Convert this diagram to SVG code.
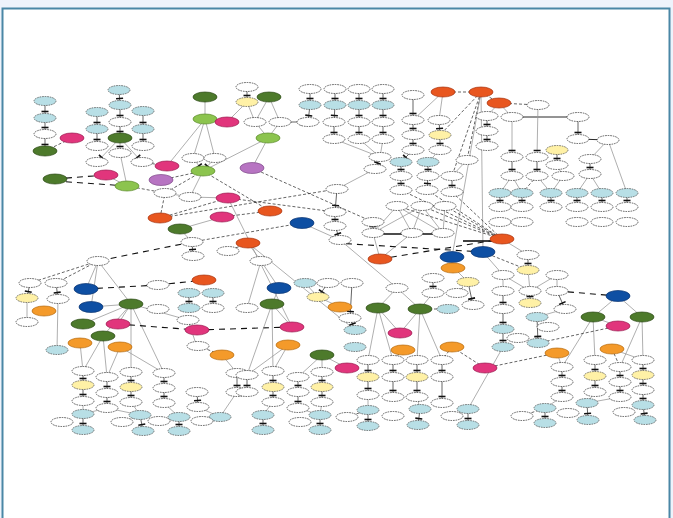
<svg xmlns="http://www.w3.org/2000/svg" width="673" height="518" viewBox="0 0 673 518">
<style>
.w{fill:#fff;stroke:#222;stroke-width:.7;stroke-dasharray:1.6 .9}
.lb{fill:#b8dfe6;stroke:#444;stroke-width:.7;stroke-dasharray:1.6 .9}
.ye{fill:#fff1a6;stroke:#444;stroke-width:.7;stroke-dasharray:1.6 .9}
.dg{fill:#4d7a2b;stroke:#2e4a18;stroke-width:.7}
.lg{fill:#8cc44e;stroke:#5a8a2a;stroke-width:.7}
.pk{fill:#e1357c;stroke:#9a1d50;stroke-width:.7}
.or{fill:#e8561f;stroke:#a63410;stroke-width:.7}
.db{fill:#0e4fa3;stroke:#0a3470;stroke-width:.7}
.og{fill:#f49a2a;stroke:#b56a10;stroke-width:.7}
.pu{fill:#b774c2;stroke:#7e4a88;stroke-width:.7}
#edges line{fill:none}
.t{stroke:#222;stroke-width:.7;marker-end:url(#bar)}
.g{stroke:#9a9a9a;stroke-width:.8}
.gt{stroke:#9a9a9a;stroke-width:.8;marker-end:url(#bar)}
.k{stroke:#111;stroke-width:.9}
.kk{stroke:#111;stroke-width:1.6}
.d{stroke:#222;stroke-width:.7;stroke-dasharray:3 2}
.bd{stroke:#111;stroke-width:1.1;stroke-dasharray:6 5}
</style>
<defs>
<marker id="bar" markerUnits="userSpaceOnUse" markerWidth="12" markerHeight="10" viewBox="-9 -5 12 10" refX="0" refY="0" orient="auto"><path d="M-6.5,-3.5V3.5" stroke="#111" stroke-width="1.6"/></marker>
</defs>
<rect x="0" y="0" width="673" height="518" fill="#eef3fb"/>
<rect x="2.5" y="8.5" width="667" height="520" fill="#fff" stroke="#4a87a6" stroke-width="2"/>
<g id="edges">
<line class="t" x1="45" y1="101" x2="45" y2="118"/><line class="t" x1="45" y1="118" x2="45" y2="134"/><line class="t" x1="45" y1="134" x2="45" y2="151"/>
<line class="t" x1="97" y1="112" x2="97" y2="129"/><line class="t" x1="97" y1="129" x2="97" y2="146"/>
<line class="t" x1="119" y1="90" x2="120" y2="105"/><line class="t" x1="120" y1="105" x2="120" y2="122"/><line class="t" x1="120" y1="122" x2="120" y2="138"/>
<line class="t" x1="143" y1="111" x2="143" y2="129"/><line class="t" x1="143" y1="129" x2="143" y2="146"/>
<line class="gt" x1="120" y1="138" x2="97" y2="162"/><line class="gt" x1="120" y1="138" x2="120" y2="153"/><line class="gt" x1="120" y1="138" x2="142" y2="162"/>
<line class="d" x1="45" y1="151" x2="72" y2="138"/><line class="d" x1="142" y1="162" x2="167" y2="166"/><line class="bd" x1="55" y1="179" x2="106" y2="175"/><line class="bd" x1="55" y1="181" x2="127" y2="186"/>
<line class="g" x1="106" y1="175" x2="127" y2="186"/><line class="g" x1="120" y1="153" x2="127" y2="186"/>
<line class="d" x1="127" y1="186" x2="165" y2="193"/>
<line class="g" x1="205" y1="97" x2="205" y2="119"/><line class="g" x1="205" y1="119" x2="193" y2="158"/><line class="g" x1="205" y1="119" x2="215" y2="158"/><line class="g" x1="227" y1="122" x2="247" y2="102"/><line class="g" x1="205" y1="119" x2="167" y2="166"/>
<line class="gt" x1="193" y1="158" x2="203" y2="171"/><line class="gt" x1="215" y1="158" x2="203" y2="171"/>
<line class="d" x1="203" y1="171" x2="161" y2="180"/><line class="d" x1="203" y1="171" x2="165" y2="193"/><line class="g" x1="203" y1="171" x2="190" y2="197"/>
<line class="t" x1="247" y1="87" x2="247" y2="102"/>
<line class="g" x1="247" y1="102" x2="255" y2="122"/><line class="g" x1="269" y1="97" x2="255" y2="122"/><line class="g" x1="269" y1="97" x2="280" y2="122"/><line class="t" x1="280" y1="122" x2="308" y2="122"/>
<line class="g" x1="255" y1="122" x2="268" y2="138"/><line class="g" x1="280" y1="122" x2="268" y2="138"/><line class="g" x1="268" y1="138" x2="252" y2="168"/><line class="g" x1="268" y1="138" x2="203" y2="171"/>
<line class="t" x1="310" y1="89" x2="310" y2="105"/><line class="t" x1="335" y1="89" x2="335" y2="105"/><line class="t" x1="359" y1="89" x2="359" y2="105"/><line class="t" x1="383" y1="89" x2="383" y2="105"/>
<line class="t" x1="310" y1="105" x2="308" y2="122"/><line class="t" x1="335" y1="105" x2="334" y2="122"/><line class="t" x1="359" y1="105" x2="359" y2="122"/><line class="t" x1="383" y1="105" x2="383" y2="122"/>
<line class="t" x1="334" y1="122" x2="334" y2="139"/><line class="t" x1="359" y1="122" x2="359" y2="139"/><line class="t" x1="383" y1="122" x2="383" y2="139"/>
<line class="g" x1="334" y1="139" x2="380" y2="157"/><line class="g" x1="359" y1="139" x2="380" y2="157"/><line class="g" x1="383" y1="139" x2="380" y2="157"/>
<line class="t" x1="380" y1="157" x2="375" y2="169"/><line class="g" x1="375" y1="169" x2="337" y2="189"/>
<line class="t" x1="413" y1="95" x2="413" y2="120"/><line class="g" x1="443" y1="92" x2="413" y2="120"/><line class="g" x1="443" y1="92" x2="439" y2="120"/>
<line class="t" x1="413" y1="120" x2="413" y2="135"/><line class="t" x1="439" y1="120" x2="440" y2="135"/><line class="t" x1="413" y1="135" x2="413" y2="150"/><line class="t" x1="440" y1="135" x2="440" y2="150"/>
<line class="d" x1="481" y1="92" x2="443" y2="92"/><line class="d" x1="481" y1="92" x2="499" y2="103"/><line class="d" x1="499" y1="103" x2="538" y2="105"/>
<line class="d" x1="481" y1="92" x2="440" y2="135"/><line class="d" x1="481" y1="92" x2="452" y2="176"/><line class="d" x1="481" y1="92" x2="467" y2="160"/>
<line class="g" x1="481" y1="92" x2="452" y2="257"/><line class="g" x1="481" y1="92" x2="483" y2="252"/>
<line class="g" x1="499" y1="103" x2="487" y2="116"/><line class="g" x1="499" y1="103" x2="512" y2="117"/><line class="t" x1="487" y1="116" x2="487" y2="131"/><line class="t" x1="487" y1="131" x2="487" y2="146"/>
<line class="k" x1="512" y1="117" x2="578" y2="117"/>
<line class="gt" x1="538" y1="105" x2="537" y2="157"/><line class="gt" x1="512" y1="117" x2="512" y2="157"/>
<line class="t" x1="578" y1="117" x2="578" y2="139"/><line class="k" x1="578" y1="139" x2="608" y2="140"/>
<line class="g" x1="608" y1="140" x2="590" y2="159"/><line class="g" x1="608" y1="140" x2="627" y2="193"/>
<line class="t" x1="512" y1="157" x2="512" y2="176"/><line class="t" x1="537" y1="157" x2="537" y2="176"/><line class="t" x1="557" y1="150" x2="557" y2="165"/><line class="t" x1="590" y1="159" x2="590" y2="174"/>
<line class="g" x1="512" y1="176" x2="500" y2="193"/><line class="g" x1="512" y1="176" x2="522" y2="193"/><line class="g" x1="537" y1="176" x2="551" y2="193"/><line class="d" x1="537" y1="176" x2="522" y2="193"/><line class="g" x1="563" y1="176" x2="551" y2="193"/><line class="g" x1="557" y1="165" x2="563" y2="176"/><line class="g" x1="590" y1="174" x2="577" y2="193"/><line class="g" x1="590" y1="174" x2="602" y2="193"/>
<line class="t" x1="500" y1="193" x2="500" y2="207"/><line class="t" x1="522" y1="193" x2="522" y2="207"/><line class="t" x1="551" y1="193" x2="551" y2="207"/><line class="t" x1="577" y1="193" x2="577" y2="207"/><line class="t" x1="602" y1="193" x2="602" y2="207"/><line class="t" x1="627" y1="193" x2="627" y2="207"/>
<line class="t" x1="401" y1="162" x2="401" y2="176"/><line class="t" x1="428" y1="162" x2="428" y2="176"/><line class="t" x1="401" y1="176" x2="401" y2="190"/><line class="t" x1="428" y1="176" x2="427" y2="190"/>
<line class="g" x1="467" y1="160" x2="452" y2="176"/><line class="t" x1="452" y1="176" x2="452" y2="192"/>
<line class="t" x1="413" y1="150" x2="401" y2="162"/><line class="g" x1="440" y1="150" x2="428" y2="162"/>
<line class="t" x1="373" y1="222" x2="373" y2="233"/>
<line class="g" x1="397" y1="206" x2="373" y2="233"/><line class="g" x1="397" y1="206" x2="412" y2="233"/><line class="g" x1="422" y1="206" x2="412" y2="233"/><line class="g" x1="422" y1="206" x2="443" y2="233"/><line class="g" x1="445" y1="206" x2="443" y2="233"/><line class="g" x1="397" y1="206" x2="443" y2="233"/><line class="g" x1="422" y1="206" x2="373" y2="233"/>
<line class="d" x1="397" y1="206" x2="502" y2="239"/><line class="d" x1="422" y1="206" x2="502" y2="239"/><line class="d" x1="445" y1="206" x2="502" y2="239"/><line class="d" x1="427" y1="190" x2="502" y2="239"/><line class="d" x1="452" y1="192" x2="502" y2="239"/><line class="d" x1="401" y1="190" x2="502" y2="239"/>
<line class="kk" x1="373" y1="234" x2="443" y2="234"/><line class="kk" x1="463" y1="241" x2="492" y2="241"/>
<line class="g" x1="373" y1="233" x2="380" y2="259"/><line class="g" x1="412" y1="233" x2="380" y2="259"/>
<line class="bd" x1="380" y1="259" x2="502" y2="239"/><line class="bd" x1="335" y1="243" x2="483" y2="252"/>
<line class="g" x1="502" y1="239" x2="528" y2="255"/><line class="t" x1="528" y1="255" x2="528" y2="270"/>
<line class="d" x1="483" y1="252" x2="528" y2="270"/><line class="g" x1="483" y1="252" x2="503" y2="275"/>
<line class="t" x1="337" y1="189" x2="335" y2="212"/><line class="t" x1="335" y1="212" x2="335" y2="226"/><line class="t" x1="335" y1="226" x2="340" y2="240"/>
<line class="g" x1="165" y1="193" x2="190" y2="197"/><line class="g" x1="190" y1="197" x2="228" y2="198"/><line class="d" x1="160" y1="218" x2="228" y2="198"/><line class="d" x1="160" y1="218" x2="165" y2="193"/>
<line class="g" x1="222" y1="217" x2="180" y2="229"/><line class="d" x1="222" y1="217" x2="270" y2="211"/><line class="d" x1="203" y1="171" x2="270" y2="211"/>
<line class="d" x1="228" y1="198" x2="335" y2="212"/><line class="d" x1="160" y1="218" x2="337" y2="189"/>
<line class="g" x1="228" y1="198" x2="292" y2="327"/>
<line class="g" x1="180" y1="229" x2="192" y2="242"/><line class="d" x1="192" y1="242" x2="302" y2="223"/><line class="bd" x1="192" y1="242" x2="98" y2="261"/><line class="t" x1="192" y1="242" x2="193" y2="256"/><line class="d" x1="248" y1="243" x2="228" y2="251"/>
<line class="g" x1="302" y1="223" x2="340" y2="240"/><line class="g" x1="248" y1="243" x2="261" y2="261"/>
<line class="d" x1="252" y1="168" x2="373" y2="222"/>
<line class="d" x1="98" y1="261" x2="30" y2="283"/><line class="d" x1="98" y1="261" x2="56" y2="283"/><line class="g" x1="98" y1="261" x2="86" y2="289"/><line class="g" x1="98" y1="261" x2="91" y2="307"/><line class="g" x1="98" y1="261" x2="131" y2="304"/>
<line class="t" x1="30" y1="283" x2="27" y2="298"/><line class="g" x1="27" y1="298" x2="27" y2="322"/><line class="t" x1="56" y1="283" x2="58" y2="299"/><line class="g" x1="58" y1="299" x2="57" y2="350"/>
<line class="bd" x1="86" y1="289" x2="158" y2="285"/><line class="bd" x1="158" y1="285" x2="204" y2="280"/>
<line class="g" x1="131" y1="304" x2="91" y2="307"/><line class="g" x1="131" y1="304" x2="83" y2="324"/><line class="g" x1="131" y1="304" x2="118" y2="324"/><line class="g" x1="131" y1="304" x2="103" y2="336"/><line class="g" x1="131" y1="304" x2="188" y2="320"/><line class="g" x1="131" y1="304" x2="131" y2="372"/><line class="g" x1="131" y1="304" x2="164" y2="373"/>
<line class="g" x1="103" y1="336" x2="83" y2="371"/><line class="g" x1="103" y1="336" x2="107" y2="377"/>
<line class="bd" x1="118" y1="324" x2="197" y2="330"/><line class="bd" x1="197" y1="330" x2="292" y2="327"/>
<line class="t" x1="189" y1="293" x2="189" y2="308"/><line class="t" x1="213" y1="293" x2="213" y2="308"/>
<line class="g" x1="188" y1="320" x2="197" y2="347"/>
<line class="g" x1="80" y1="343" x2="83" y2="371"/><line class="g" x1="120" y1="347" x2="107" y2="377"/><line class="g" x1="120" y1="347" x2="164" y2="373"/>
<line class="g" x1="222" y1="355" x2="237" y2="373"/><line class="d" x1="198" y1="346" x2="222" y2="355"/>
<line class="t" x1="83" y1="371" x2="83" y2="385"/><line class="t" x1="83" y1="385" x2="83" y2="401"/>
<line class="t" x1="107" y1="377" x2="107" y2="393"/><line class="t" x1="107" y1="393" x2="107" y2="408"/>
<line class="t" x1="131" y1="372" x2="131" y2="387"/><line class="t" x1="131" y1="387" x2="131" y2="402"/>
<line class="t" x1="164" y1="373" x2="164" y2="388"/><line class="t" x1="164" y1="388" x2="164" y2="403"/>
<line class="g" x1="83" y1="401" x2="83" y2="414"/><line class="t" x1="83" y1="414" x2="83" y2="430"/>
<line class="g" x1="107" y1="408" x2="83" y2="414"/><line class="g" x1="107" y1="408" x2="140" y2="415"/><line class="g" x1="131" y1="402" x2="140" y2="415"/><line class="t" x1="140" y1="415" x2="143" y2="431"/><line class="d" x1="123" y1="422" x2="140" y2="415"/>
<line class="g" x1="164" y1="403" x2="179" y2="417"/><line class="t" x1="179" y1="417" x2="179" y2="431"/>
<line class="t" x1="197" y1="392" x2="198" y2="407"/><line class="g" x1="198" y1="407" x2="220" y2="417"/>
<line class="t" x1="237" y1="373" x2="237" y2="392"/><line class="g" x1="237" y1="392" x2="220" y2="417"/>
<line class="g" x1="261" y1="261" x2="279" y2="288"/><line class="g" x1="261" y1="261" x2="247" y2="308"/><line class="g" x1="279" y1="288" x2="272" y2="304"/><line class="g" x1="272" y1="304" x2="292" y2="327"/><line class="g" x1="272" y1="304" x2="247" y2="375"/><line class="g" x1="272" y1="304" x2="273" y2="371"/>
<line class="g" x1="248" y1="243" x2="355" y2="330"/>
<line class="t" x1="328" y1="283" x2="318" y2="297"/><line class="g" x1="318" y1="297" x2="340" y2="307"/><line class="g" x1="305" y1="283" x2="318" y2="297"/>
<line class="t" x1="352" y1="283" x2="350" y2="318"/><line class="t" x1="350" y1="318" x2="355" y2="330"/>
<line class="g" x1="340" y1="240" x2="397" y2="288"/><line class="g" x1="397" y1="288" x2="378" y2="308"/><line class="g" x1="397" y1="288" x2="420" y2="309"/>
<line class="t" x1="433" y1="278" x2="433" y2="293"/><line class="g" x1="433" y1="293" x2="420" y2="309"/>
<line class="g" x1="378" y1="308" x2="400" y2="333"/><line class="g" x1="420" y1="309" x2="400" y2="333"/>
<line class="g" x1="378" y1="308" x2="368" y2="360"/><line class="g" x1="378" y1="308" x2="393" y2="360"/><line class="g" x1="420" y1="309" x2="417" y2="360"/><line class="g" x1="420" y1="309" x2="442" y2="360"/>
<line class="d" x1="447" y1="309" x2="420" y2="309"/>
<line class="g" x1="322" y1="355" x2="347" y2="368"/><line class="g" x1="322" y1="355" x2="298" y2="377"/><line class="g" x1="322" y1="355" x2="322" y2="372"/>
<line class="g" x1="288" y1="345" x2="273" y2="371"/><line class="g" x1="288" y1="345" x2="247" y2="375"/>
<line class="t" x1="273" y1="371" x2="273" y2="387"/><line class="t" x1="273" y1="387" x2="273" y2="402"/><line class="t" x1="298" y1="377" x2="298" y2="392"/><line class="t" x1="298" y1="392" x2="298" y2="408"/><line class="t" x1="322" y1="372" x2="322" y2="387"/><line class="t" x1="322" y1="387" x2="322" y2="402"/><line class="t" x1="247" y1="375" x2="247" y2="392"/>
<line class="g" x1="273" y1="402" x2="263" y2="415"/><line class="t" x1="263" y1="415" x2="263" y2="430"/><line class="g" x1="322" y1="402" x2="320" y2="415"/><line class="t" x1="320" y1="415" x2="320" y2="430"/><line class="g" x1="298" y1="408" x2="320" y2="415"/>
<line class="t" x1="368" y1="360" x2="368" y2="377"/><line class="t" x1="368" y1="377" x2="368" y2="395"/><line class="t" x1="393" y1="360" x2="393" y2="377"/><line class="t" x1="393" y1="377" x2="393" y2="397"/><line class="t" x1="417" y1="360" x2="417" y2="377"/><line class="t" x1="417" y1="377" x2="417" y2="397"/><line class="t" x1="442" y1="360" x2="442" y2="377"/><line class="t" x1="442" y1="377" x2="442" y2="403"/>
<line class="g" x1="368" y1="395" x2="368" y2="410"/><line class="t" x1="368" y1="410" x2="368" y2="426"/><line class="g" x1="417" y1="397" x2="420" y2="409"/><line class="t" x1="420" y1="409" x2="418" y2="425"/>
<line class="d" x1="347" y1="417" x2="368" y2="410"/>
<line class="d" x1="403" y1="350" x2="393" y2="360"/><line class="d" x1="452" y1="347" x2="442" y2="360"/><line class="d" x1="452" y1="347" x2="485" y2="368"/><line class="d" x1="485" y1="368" x2="557" y2="353"/>
<line class="g" x1="503" y1="275" x2="503" y2="291"/><line class="g" x1="503" y1="275" x2="530" y2="291"/><line class="g" x1="557" y1="275" x2="530" y2="291"/><line class="g" x1="557" y1="275" x2="557" y2="291"/><line class="g" x1="528" y1="270" x2="530" y2="291"/>
<line class="t" x1="503" y1="291" x2="503" y2="309"/><line class="t" x1="530" y1="291" x2="530" y2="303"/><line class="t" x1="557" y1="291" x2="565" y2="309"/>
<line class="bd" x1="557" y1="291" x2="618" y2="296"/>
<line class="g" x1="618" y1="296" x2="593" y2="317"/><line class="g" x1="618" y1="296" x2="642" y2="317"/><line class="g" x1="593" y1="317" x2="618" y2="326"/>
<line class="g" x1="593" y1="317" x2="562" y2="367"/><line class="g" x1="593" y1="317" x2="595" y2="360"/><line class="g" x1="642" y1="317" x2="620" y2="367"/><line class="g" x1="642" y1="317" x2="643" y2="360"/>
<line class="t" x1="503" y1="309" x2="503" y2="329"/><line class="t" x1="503" y1="329" x2="503" y2="347"/>
<line class="g" x1="565" y1="309" x2="537" y2="317"/><line class="t" x1="537" y1="317" x2="538" y2="343"/>
<line class="d" x1="618" y1="326" x2="538" y2="343"/>
<line class="t" x1="468" y1="282" x2="473" y2="305"/><line class="d" x1="457" y1="293" x2="468" y2="282"/><line class="g" x1="453" y1="267" x2="468" y2="282"/>
<line class="g" x1="557" y1="353" x2="562" y2="367"/><line class="d" x1="612" y1="349" x2="620" y2="367"/><line class="g" x1="612" y1="349" x2="643" y2="360"/>
<line class="t" x1="562" y1="367" x2="562" y2="382"/><line class="t" x1="562" y1="382" x2="562" y2="397"/><line class="t" x1="595" y1="360" x2="595" y2="376"/><line class="t" x1="595" y1="376" x2="595" y2="392"/><line class="t" x1="620" y1="367" x2="620" y2="382"/><line class="t" x1="620" y1="382" x2="620" y2="397"/><line class="t" x1="643" y1="360" x2="643" y2="375"/><line class="t" x1="643" y1="375" x2="643" y2="390"/>
<line class="g" x1="562" y1="397" x2="545" y2="408"/><line class="t" x1="545" y1="408" x2="545" y2="423"/><line class="d" x1="522" y1="416" x2="545" y2="408"/>
<line class="g" x1="595" y1="392" x2="587" y2="403"/><line class="t" x1="587" y1="403" x2="588" y2="420"/><line class="g" x1="620" y1="397" x2="587" y2="403"/>
<line class="t" x1="643" y1="390" x2="643" y2="405"/><line class="t" x1="643" y1="405" x2="645" y2="420"/>
<line class="t" x1="468" y1="409" x2="468" y2="425"/>
<line class="g" x1="503" y1="347" x2="468" y2="409"/>
</g>
<g id="nodes">
<g id="a1"><ellipse class="lb" cx="45" cy="101" rx="11" ry="4.5"/></g>
<g id="a2"><ellipse class="lb" cx="45" cy="118" rx="11" ry="4.5"/></g>
<g id="a3"><ellipse class="w" cx="45" cy="134" rx="11" ry="4.5"/></g>
<g id="a4"><ellipse class="dg" cx="45" cy="151" rx="12" ry="5"/></g>
<g id="a5"><ellipse class="pk" cx="72" cy="138" rx="12" ry="5"/></g>
<g id="b1"><ellipse class="lb" cx="97" cy="112" rx="11" ry="4.5"/></g>
<g id="b2"><ellipse class="lb" cx="97" cy="129" rx="11" ry="4.5"/></g>
<g id="b3"><ellipse class="w" cx="97" cy="146" rx="11" ry="4.5"/></g>
<g id="b4"><ellipse class="w" cx="97" cy="162" rx="11" ry="4.5"/></g>
<g id="c0"><ellipse class="lb" cx="119" cy="90" rx="11" ry="4.5"/></g>
<g id="c1"><ellipse class="lb" cx="120" cy="105" rx="11" ry="4.5"/></g>
<g id="c2"><ellipse class="w" cx="120" cy="122" rx="11" ry="4.5"/></g>
<g id="c3"><ellipse class="dg" cx="120" cy="138" rx="12" ry="5"/></g>
<g id="c4"><ellipse class="w" cx="120" cy="153" rx="11" ry="4.5"/></g>
<g id="d1"><ellipse class="lb" cx="143" cy="111" rx="11" ry="4.5"/></g>
<g id="d2"><ellipse class="lb" cx="143" cy="129" rx="11" ry="4.5"/></g>
<g id="d3"><ellipse class="w" cx="143" cy="146" rx="11" ry="4.5"/></g>
<g id="d4"><ellipse class="w" cx="142" cy="162" rx="11" ry="4.5"/></g>
<g id="e1"><ellipse class="pk" cx="167" cy="166" rx="12" ry="5"/></g>
<g id="e2"><ellipse class="pk" cx="106" cy="175" rx="12" ry="5"/></g>
<g id="e3"><ellipse class="dg" cx="55" cy="179" rx="12" ry="5"/></g>
<g id="e4"><ellipse class="lg" cx="127" cy="186" rx="12" ry="5"/></g>
<g id="e5"><ellipse class="pu" cx="161" cy="180" rx="12" ry="5.5"/></g>
<g id="f1"><ellipse class="dg" cx="205" cy="97" rx="12" ry="5"/></g>
<g id="f2"><ellipse class="lg" cx="205" cy="119" rx="12" ry="5"/></g>
<g id="f3"><ellipse class="pk" cx="227" cy="122" rx="12" ry="5"/></g>
<g id="f4"><ellipse class="w" cx="193" cy="158" rx="11" ry="4.5"/></g>
<g id="f5"><ellipse class="w" cx="215" cy="158" rx="11" ry="4.5"/></g>
<g id="f6"><ellipse class="lg" cx="203" cy="171" rx="12" ry="5"/></g>
<g id="g0"><ellipse class="w" cx="247" cy="87" rx="11" ry="4.5"/></g>
<g id="g1"><ellipse class="ye" cx="247" cy="102" rx="11" ry="4.5"/></g>
<g id="g2"><ellipse class="dg" cx="269" cy="97" rx="12" ry="5"/></g>
<g id="g3"><ellipse class="w" cx="255" cy="122" rx="11" ry="4.5"/></g>
<g id="g4"><ellipse class="w" cx="280" cy="122" rx="11" ry="4.5"/></g>
<g id="g5"><ellipse class="w" cx="308" cy="122" rx="11" ry="4.5"/></g>
<g id="g6"><ellipse class="lg" cx="268" cy="138" rx="12" ry="5"/></g>
<g id="g7"><ellipse class="pu" cx="252" cy="168" rx="12" ry="5.5"/></g>
<g id="h1"><ellipse class="w" cx="310" cy="89" rx="11" ry="4.5"/></g>
<g id="h2"><ellipse class="w" cx="335" cy="89" rx="11" ry="4.5"/></g>
<g id="h3"><ellipse class="w" cx="359" cy="89" rx="11" ry="4.5"/></g>
<g id="h4"><ellipse class="w" cx="383" cy="89" rx="11" ry="4.5"/></g>
<g id="i1"><ellipse class="lb" cx="310" cy="105" rx="11" ry="4.5"/></g>
<g id="i2"><ellipse class="lb" cx="335" cy="105" rx="11" ry="4.5"/></g>
<g id="i3"><ellipse class="lb" cx="359" cy="105" rx="11" ry="4.5"/></g>
<g id="i4"><ellipse class="lb" cx="383" cy="105" rx="11" ry="4.5"/></g>
<g id="j2"><ellipse class="w" cx="334" cy="122" rx="11" ry="4.5"/></g>
<g id="j3"><ellipse class="w" cx="359" cy="122" rx="11" ry="4.5"/></g>
<g id="j4"><ellipse class="w" cx="383" cy="122" rx="11" ry="4.5"/></g>
<g id="k2"><ellipse class="w" cx="334" cy="139" rx="11" ry="4.5"/></g>
<g id="k3"><ellipse class="w" cx="359" cy="139" rx="11" ry="4.5"/></g>
<g id="k4"><ellipse class="w" cx="383" cy="139" rx="11" ry="4.5"/></g>
<g id="l1"><ellipse class="w" cx="380" cy="157" rx="11" ry="4.5"/></g>
<g id="l2"><ellipse class="w" cx="375" cy="169" rx="11" ry="4.5"/></g>
<g id="l3"><ellipse class="w" cx="337" cy="189" rx="11" ry="4.5"/></g>
<g id="m1"><ellipse class="w" cx="413" cy="95" rx="11" ry="4.5"/></g>
<g id="m2"><ellipse class="or" cx="443" cy="92" rx="12" ry="5"/></g>
<g id="m3"><ellipse class="w" cx="413" cy="120" rx="11" ry="4.5"/></g>
<g id="m4"><ellipse class="w" cx="439" cy="120" rx="11" ry="4.5"/></g>
<g id="m5"><ellipse class="w" cx="413" cy="135" rx="11" ry="4.5"/></g>
<g id="m6"><ellipse class="ye" cx="440" cy="135" rx="11" ry="4.5"/></g>
<g id="m7"><ellipse class="w" cx="413" cy="150" rx="11" ry="4.5"/></g>
<g id="m8"><ellipse class="w" cx="440" cy="150" rx="11" ry="4.5"/></g>
<g id="n1"><ellipse class="lb" cx="401" cy="162" rx="11" ry="4.5"/></g>
<g id="n2"><ellipse class="lb" cx="428" cy="162" rx="11" ry="4.5"/></g>
<g id="n3"><ellipse class="w" cx="401" cy="176" rx="11" ry="4.5"/></g>
<g id="n4"><ellipse class="w" cx="428" cy="176" rx="11" ry="4.5"/></g>
<g id="n5"><ellipse class="w" cx="401" cy="190" rx="11" ry="4.5"/></g>
<g id="n6"><ellipse class="w" cx="427" cy="190" rx="11" ry="4.5"/></g>
<g id="n7"><ellipse class="w" cx="452" cy="176" rx="11" ry="4.5"/></g>
<g id="n8"><ellipse class="w" cx="452" cy="192" rx="11" ry="4.5"/></g>
<g id="n9"><ellipse class="w" cx="467" cy="160" rx="11" ry="4.5"/></g>
<g id="o1"><ellipse class="or" cx="481" cy="92" rx="12" ry="5"/></g>
<g id="o2"><ellipse class="or" cx="499" cy="103" rx="12" ry="5"/></g>
<g id="o3"><ellipse class="w" cx="538" cy="105" rx="11" ry="4.5"/></g>
<g id="o4"><ellipse class="w" cx="487" cy="116" rx="11" ry="4.5"/></g>
<g id="o5"><ellipse class="w" cx="512" cy="117" rx="11" ry="4.5"/></g>
<g id="o6"><ellipse class="w" cx="578" cy="117" rx="11" ry="4.5"/></g>
<g id="o7"><ellipse class="w" cx="487" cy="131" rx="11" ry="4.5"/></g>
<g id="o8"><ellipse class="w" cx="487" cy="146" rx="11" ry="4.5"/></g>
<g id="o9"><ellipse class="w" cx="578" cy="139" rx="11" ry="4.5"/></g>
<g id="o10"><ellipse class="w" cx="608" cy="140" rx="11" ry="4.5"/></g>
<g id="p1"><ellipse class="w" cx="512" cy="157" rx="11" ry="4.5"/></g>
<g id="p2"><ellipse class="w" cx="537" cy="157" rx="11" ry="4.5"/></g>
<g id="p3"><ellipse class="ye" cx="557" cy="150" rx="11" ry="4.5"/></g>
<g id="p4"><ellipse class="w" cx="557" cy="165" rx="11" ry="4.5"/></g>
<g id="p5"><ellipse class="w" cx="590" cy="159" rx="11" ry="4.5"/></g>
<g id="q1"><ellipse class="w" cx="512" cy="176" rx="11" ry="4.5"/></g>
<g id="q2"><ellipse class="w" cx="537" cy="176" rx="11" ry="4.5"/></g>
<g id="q3"><ellipse class="w" cx="563" cy="176" rx="11" ry="4.5"/></g>
<g id="q4"><ellipse class="w" cx="590" cy="174" rx="11" ry="4.5"/></g>
<g id="r1"><ellipse class="lb" cx="500" cy="193" rx="11" ry="4.5"/></g>
<g id="r2"><ellipse class="lb" cx="522" cy="193" rx="11" ry="4.5"/></g>
<g id="r3"><ellipse class="lb" cx="551" cy="193" rx="11" ry="4.5"/></g>
<g id="r4"><ellipse class="lb" cx="577" cy="193" rx="11" ry="4.5"/></g>
<g id="r5"><ellipse class="lb" cx="602" cy="193" rx="11" ry="4.5"/></g>
<g id="r6"><ellipse class="lb" cx="627" cy="193" rx="11" ry="4.5"/></g>
<g id="s1"><ellipse class="w" cx="500" cy="207" rx="11" ry="4.5"/></g>
<g id="s2"><ellipse class="w" cx="522" cy="207" rx="11" ry="4.5"/></g>
<g id="s3"><ellipse class="w" cx="551" cy="207" rx="11" ry="4.5"/></g>
<g id="s4"><ellipse class="w" cx="577" cy="207" rx="11" ry="4.5"/></g>
<g id="s5"><ellipse class="w" cx="602" cy="207" rx="11" ry="4.5"/></g>
<g id="s6"><ellipse class="w" cx="627" cy="207" rx="11" ry="4.5"/></g>
<g id="t1"><ellipse class="w" cx="500" cy="222" rx="11" ry="4.5"/></g>
<g id="t2"><ellipse class="w" cx="522" cy="222" rx="11" ry="4.5"/></g>
<g id="t3"><ellipse class="w" cx="577" cy="222" rx="11" ry="4.5"/></g>
<g id="t4"><ellipse class="w" cx="602" cy="222" rx="11" ry="4.5"/></g>
<g id="t5"><ellipse class="w" cx="627" cy="222" rx="11" ry="4.5"/></g>
<g id="u2"><ellipse class="w" cx="335" cy="212" rx="11" ry="4.5"/></g>
<g id="u3"><ellipse class="w" cx="335" cy="226" rx="11" ry="4.5"/></g>
<g id="u4"><ellipse class="w" cx="340" cy="240" rx="11" ry="4.5"/></g>
<g id="v1"><ellipse class="w" cx="397" cy="206" rx="11" ry="4.5"/></g>
<g id="v2"><ellipse class="w" cx="422" cy="206" rx="11" ry="4.5"/></g>
<g id="v3"><ellipse class="w" cx="445" cy="206" rx="11" ry="4.5"/></g>
<g id="v4"><ellipse class="w" cx="373" cy="222" rx="11" ry="4.5"/></g>
<g id="v5"><ellipse class="w" cx="373" cy="233" rx="11" ry="4.5"/></g>
<g id="v6"><ellipse class="w" cx="412" cy="233" rx="11" ry="4.5"/></g>
<g id="v7"><ellipse class="w" cx="443" cy="233" rx="11" ry="4.5"/></g>
<g id="x3"><ellipse class="w" cx="165" cy="193" rx="11" ry="4.5"/></g>
<g id="x4"><ellipse class="w" cx="190" cy="197" rx="11" ry="4.5"/></g>
<g id="x5"><ellipse class="pk" cx="228" cy="198" rx="12" ry="5"/></g>
<g id="x6"><ellipse class="pk" cx="222" cy="217" rx="12" ry="5"/></g>
<g id="x7"><ellipse class="or" cx="160" cy="218" rx="12" ry="5"/></g>
<g id="x8"><ellipse class="or" cx="270" cy="211" rx="12" ry="5"/></g>
<g id="x9"><ellipse class="dg" cx="180" cy="229" rx="12" ry="5"/></g>
<g id="x10"><ellipse class="db" cx="302" cy="223" rx="12" ry="5.5"/></g>
<g id="x11"><ellipse class="w" cx="192" cy="242" rx="11" ry="4.5"/></g>
<g id="x12"><ellipse class="or" cx="248" cy="243" rx="12" ry="5"/></g>
<g id="y1"><ellipse class="or" cx="502" cy="239" rx="12" ry="5"/></g>
<g id="y2"><ellipse class="db" cx="483" cy="252" rx="12" ry="5.5"/></g>
<g id="y3"><ellipse class="db" cx="452" cy="257" rx="12" ry="5.5"/></g>
<g id="y4"><ellipse class="or" cx="380" cy="259" rx="12" ry="5"/></g>
<g id="y5"><ellipse class="og" cx="453" cy="268" rx="12" ry="5"/></g>
<g id="z2"><ellipse class="w" cx="193" cy="256" rx="11" ry="4.5"/></g>
<g id="z3"><ellipse class="w" cx="228" cy="251" rx="11" ry="4.5"/></g>
<g id="z4"><ellipse class="w" cx="98" cy="261" rx="11" ry="4.5"/></g>
<g id="z5"><ellipse class="w" cx="30" cy="283" rx="11" ry="4.5"/></g>
<g id="z6"><ellipse class="w" cx="56" cy="283" rx="11" ry="4.5"/></g>
<g id="z7"><ellipse class="ye" cx="27" cy="298" rx="11" ry="4.5"/></g>
<g id="z8"><ellipse class="og" cx="44" cy="311" rx="12" ry="5"/></g>
<g id="z9"><ellipse class="w" cx="27" cy="322" rx="11" ry="4.5"/></g>
<g id="z10"><ellipse class="w" cx="58" cy="299" rx="11" ry="4.5"/></g>
<g id="z11"><ellipse class="db" cx="86" cy="289" rx="12" ry="5.5"/></g>
<g id="z12"><ellipse class="db" cx="91" cy="307" rx="12" ry="5.5"/></g>
<g id="z13"><ellipse class="dg" cx="131" cy="304" rx="12" ry="5"/></g>
<g id="z14"><ellipse class="dg" cx="83" cy="324" rx="12" ry="5"/></g>
<g id="z15"><ellipse class="pk" cx="118" cy="324" rx="12" ry="5"/></g>
<g id="z16"><ellipse class="dg" cx="103" cy="336" rx="12" ry="5"/></g>
<g id="z17"><ellipse class="w" cx="158" cy="285" rx="11" ry="4.5"/></g>
<g id="z18"><ellipse class="or" cx="204" cy="280" rx="12" ry="5"/></g>
<g id="z19"><ellipse class="lb" cx="189" cy="293" rx="11" ry="4.5"/></g>
<g id="z20"><ellipse class="lb" cx="213" cy="293" rx="11" ry="4.5"/></g>
<g id="z21"><ellipse class="lb" cx="189" cy="308" rx="11" ry="4.5"/></g>
<g id="z22"><ellipse class="w" cx="213" cy="308" rx="11" ry="4.5"/></g>
<g id="z23"><ellipse class="w" cx="158" cy="309" rx="11" ry="4.5"/></g>
<g id="z24"><ellipse class="w" cx="188" cy="320" rx="11" ry="4.5"/></g>
<g id="z25"><ellipse class="pk" cx="197" cy="330" rx="12" ry="5"/></g>
<g id="z26"><ellipse class="og" cx="80" cy="343" rx="12" ry="5"/></g>
<g id="z27"><ellipse class="og" cx="120" cy="347" rx="12" ry="5"/></g>
<g id="z28"><ellipse class="w" cx="198" cy="346" rx="11" ry="4.5"/></g>
<g id="w2"><ellipse class="w" cx="261" cy="261" rx="11" ry="4.5"/></g>
<g id="w3"><ellipse class="db" cx="279" cy="288" rx="12" ry="5.5"/></g>
<g id="w4"><ellipse class="dg" cx="272" cy="304" rx="12" ry="5"/></g>
<g id="w5"><ellipse class="w" cx="247" cy="308" rx="11" ry="4.5"/></g>
<g id="w6"><ellipse class="lb" cx="305" cy="283" rx="11" ry="4.5"/></g>
<g id="w7"><ellipse class="w" cx="328" cy="283" rx="11" ry="4.5"/></g>
<g id="w8"><ellipse class="w" cx="352" cy="283" rx="11" ry="4.5"/></g>
<g id="w9"><ellipse class="ye" cx="318" cy="297" rx="11" ry="4.5"/></g>
<g id="w10"><ellipse class="og" cx="340" cy="307" rx="12" ry="5"/></g>
<g id="w11"><ellipse class="w" cx="397" cy="288" rx="11" ry="4.5"/></g>
<g id="w12"><ellipse class="dg" cx="378" cy="308" rx="12" ry="5"/></g>
<g id="w13"><ellipse class="dg" cx="420" cy="309" rx="12" ry="5"/></g>
<g id="w14"><ellipse class="w" cx="433" cy="278" rx="11" ry="4.5"/></g>
<g id="w15"><ellipse class="w" cx="433" cy="293" rx="11" ry="4.5"/></g>
<g id="w17"><ellipse class="lb" cx="448" cy="309" rx="11" ry="4.5"/></g>
<g id="w18"><ellipse class="w" cx="350" cy="318" rx="11" ry="4.5"/></g>
<g id="w19"><ellipse class="pk" cx="292" cy="327" rx="12" ry="5"/></g>
<g id="w20"><ellipse class="pk" cx="400" cy="333" rx="12" ry="5"/></g>
<g id="w21"><ellipse class="lb" cx="355" cy="330" rx="11" ry="4.5"/></g>
<g id="w22"><ellipse class="og" cx="288" cy="345" rx="12" ry="5"/></g>
<g id="R1"><ellipse class="w" cx="528" cy="255" rx="11" ry="4.5"/></g>
<g id="R2"><ellipse class="ye" cx="528" cy="270" rx="11" ry="4.5"/></g>
<g id="R3"><ellipse class="w" cx="503" cy="275" rx="11" ry="4.5"/></g>
<g id="R4"><ellipse class="w" cx="557" cy="275" rx="11" ry="4.5"/></g>
<g id="R5"><ellipse class="w" cx="503" cy="291" rx="11" ry="4.5"/></g>
<g id="R6"><ellipse class="w" cx="530" cy="291" rx="11" ry="4.5"/></g>
<g id="R7"><ellipse class="w" cx="557" cy="291" rx="11" ry="4.5"/></g>
<g id="R8"><ellipse class="w" cx="503" cy="309" rx="11" ry="4.5"/></g>
<g id="R9"><ellipse class="ye" cx="530" cy="303" rx="11" ry="4.5"/></g>
<g id="R10"><ellipse class="w" cx="565" cy="309" rx="11" ry="4.5"/></g>
<g id="R11"><ellipse class="db" cx="618" cy="296" rx="12" ry="5.5"/></g>
<g id="R12"><ellipse class="dg" cx="593" cy="317" rx="12" ry="5"/></g>
<g id="R13"><ellipse class="dg" cx="642" cy="317" rx="12" ry="5"/></g>
<g id="R14"><ellipse class="pk" cx="618" cy="326" rx="12" ry="5"/></g>
<g id="R15"><ellipse class="lb" cx="537" cy="317" rx="11" ry="4.5"/></g>
<g id="R16"><ellipse class="w" cx="548" cy="327" rx="11" ry="4.5"/></g>
<g id="R17"><ellipse class="lb" cx="503" cy="329" rx="11" ry="4.5"/></g>
<g id="R18"><ellipse class="w" cx="518" cy="338" rx="11" ry="4.5"/></g>
<g id="R19"><ellipse class="lb" cx="538" cy="343" rx="11" ry="4.5"/></g>
<g id="R20"><ellipse class="lb" cx="503" cy="347" rx="11" ry="4.5"/></g>
<g id="R21"><ellipse class="ye" cx="468" cy="282" rx="11" ry="4.5"/></g>
<g id="R22"><ellipse class="w" cx="457" cy="293" rx="11" ry="4.5"/></g>
<g id="R23"><ellipse class="w" cx="473" cy="305" rx="11" ry="4.5"/></g>
<g id="R26"><ellipse class="og" cx="557" cy="353" rx="12" ry="5"/></g>
<g id="R27"><ellipse class="og" cx="612" cy="349" rx="12" ry="5"/></g>
<g id="L1"><ellipse class="lb" cx="57" cy="350" rx="11" ry="4.5"/></g>
<g id="L2"><ellipse class="w" cx="83" cy="371" rx="11" ry="4.5"/></g>
<g id="L3"><ellipse class="ye" cx="83" cy="385" rx="11" ry="4.5"/></g>
<g id="L4"><ellipse class="w" cx="83" cy="401" rx="11" ry="4.5"/></g>
<g id="L5"><ellipse class="w" cx="107" cy="377" rx="11" ry="4.5"/></g>
<g id="L6"><ellipse class="w" cx="107" cy="393" rx="11" ry="4.5"/></g>
<g id="L7"><ellipse class="w" cx="107" cy="408" rx="11" ry="4.5"/></g>
<g id="L8"><ellipse class="w" cx="131" cy="372" rx="11" ry="4.5"/></g>
<g id="L9"><ellipse class="ye" cx="131" cy="387" rx="11" ry="4.5"/></g>
<g id="L10"><ellipse class="w" cx="131" cy="402" rx="11" ry="4.5"/></g>
<g id="L11"><ellipse class="w" cx="164" cy="373" rx="11" ry="4.5"/></g>
<g id="L12"><ellipse class="w" cx="164" cy="388" rx="11" ry="4.5"/></g>
<g id="L13"><ellipse class="w" cx="164" cy="403" rx="11" ry="4.5"/></g>
<g id="L14"><ellipse class="lb" cx="83" cy="414" rx="11" ry="4.5"/></g>
<g id="L15"><ellipse class="lb" cx="83" cy="430" rx="11" ry="4.5"/></g>
<g id="L16"><ellipse class="w" cx="62" cy="422" rx="11" ry="4.5"/></g>
<g id="L17"><ellipse class="lb" cx="140" cy="415" rx="11" ry="4.5"/></g>
<g id="L18"><ellipse class="w" cx="122" cy="422" rx="11" ry="4.5"/></g>
<g id="L19"><ellipse class="lb" cx="143" cy="431" rx="11" ry="4.5"/></g>
<g id="L20"><ellipse class="lb" cx="179" cy="417" rx="11" ry="4.5"/></g>
<g id="L21"><ellipse class="lb" cx="179" cy="431" rx="11" ry="4.5"/></g>
<g id="L22"><ellipse class="w" cx="159" cy="421" rx="11" ry="4.5"/></g>
<g id="L23"><ellipse class="w" cx="197" cy="392" rx="11" ry="4.5"/></g>
<g id="L24"><ellipse class="w" cx="198" cy="407" rx="11" ry="4.5"/></g>
<g id="L25"><ellipse class="og" cx="222" cy="355" rx="12" ry="5"/></g>
<g id="L26"><ellipse class="lb" cx="220" cy="417" rx="11" ry="4.5"/></g>
<g id="L27"><ellipse class="w" cx="202" cy="421" rx="11" ry="4.5"/></g>
<g id="L28"><ellipse class="w" cx="237" cy="373" rx="11" ry="4.5"/></g>
<g id="L29"><ellipse class="w" cx="237" cy="392" rx="11" ry="4.5"/></g>
<g id="M1"><ellipse class="dg" cx="322" cy="355" rx="12" ry="5"/></g>
<g id="M2"><ellipse class="pk" cx="347" cy="368" rx="12" ry="5"/></g>
<g id="M3"><ellipse class="lb" cx="355" cy="347" rx="11" ry="4.5"/></g>
<g id="M4"><ellipse class="og" cx="403" cy="350" rx="12" ry="5"/></g>
<g id="M5"><ellipse class="og" cx="452" cy="347" rx="12" ry="5"/></g>
<g id="M6"><ellipse class="w" cx="273" cy="371" rx="11" ry="4.5"/></g>
<g id="M7"><ellipse class="ye" cx="273" cy="387" rx="11" ry="4.5"/></g>
<g id="M8"><ellipse class="w" cx="273" cy="402" rx="11" ry="4.5"/></g>
<g id="M9"><ellipse class="w" cx="247" cy="375" rx="11" ry="4.5"/></g>
<g id="M10"><ellipse class="w" cx="247" cy="392" rx="11" ry="4.5"/></g>
<g id="M11"><ellipse class="w" cx="298" cy="377" rx="11" ry="4.5"/></g>
<g id="M12"><ellipse class="w" cx="298" cy="392" rx="11" ry="4.5"/></g>
<g id="M13"><ellipse class="w" cx="298" cy="408" rx="11" ry="4.5"/></g>
<g id="M14"><ellipse class="w" cx="322" cy="372" rx="11" ry="4.5"/></g>
<g id="M15"><ellipse class="ye" cx="322" cy="387" rx="11" ry="4.5"/></g>
<g id="M16"><ellipse class="w" cx="322" cy="402" rx="11" ry="4.5"/></g>
<g id="M17"><ellipse class="lb" cx="263" cy="415" rx="11" ry="4.5"/></g>
<g id="M18"><ellipse class="lb" cx="263" cy="430" rx="11" ry="4.5"/></g>
<g id="M19"><ellipse class="lb" cx="320" cy="415" rx="11" ry="4.5"/></g>
<g id="M20"><ellipse class="lb" cx="320" cy="430" rx="11" ry="4.5"/></g>
<g id="M21"><ellipse class="w" cx="300" cy="422" rx="11" ry="4.5"/></g>
<g id="N1"><ellipse class="w" cx="368" cy="360" rx="11" ry="4.5"/></g>
<g id="N2"><ellipse class="ye" cx="368" cy="377" rx="11" ry="4.5"/></g>
<g id="N3"><ellipse class="w" cx="368" cy="395" rx="11" ry="4.5"/></g>
<g id="N4"><ellipse class="w" cx="393" cy="360" rx="11" ry="4.5"/></g>
<g id="N5"><ellipse class="w" cx="393" cy="377" rx="11" ry="4.5"/></g>
<g id="N6"><ellipse class="w" cx="393" cy="397" rx="11" ry="4.5"/></g>
<g id="N7"><ellipse class="w" cx="417" cy="360" rx="11" ry="4.5"/></g>
<g id="N8"><ellipse class="ye" cx="417" cy="377" rx="11" ry="4.5"/></g>
<g id="N9"><ellipse class="w" cx="417" cy="397" rx="11" ry="4.5"/></g>
<g id="N10"><ellipse class="w" cx="442" cy="360" rx="11" ry="4.5"/></g>
<g id="N11"><ellipse class="w" cx="442" cy="377" rx="11" ry="4.5"/></g>
<g id="N12"><ellipse class="w" cx="442" cy="403" rx="11" ry="4.5"/></g>
<g id="N13"><ellipse class="lb" cx="368" cy="410" rx="11" ry="4.5"/></g>
<g id="N14"><ellipse class="lb" cx="368" cy="426" rx="11" ry="4.5"/></g>
<g id="N15"><ellipse class="w" cx="347" cy="417" rx="11" ry="4.5"/></g>
<g id="N16"><ellipse class="w" cx="393" cy="416" rx="11" ry="4.5"/></g>
<g id="N17"><ellipse class="lb" cx="420" cy="409" rx="11" ry="4.5"/></g>
<g id="N18"><ellipse class="lb" cx="418" cy="425" rx="11" ry="4.5"/></g>
<g id="N19"><ellipse class="w" cx="452" cy="416" rx="11" ry="4.5"/></g>
<g id="N20"><ellipse class="pk" cx="485" cy="368" rx="12" ry="5"/></g>
<g id="N21"><ellipse class="lb" cx="468" cy="409" rx="11" ry="4.5"/></g>
<g id="N22"><ellipse class="lb" cx="468" cy="425" rx="11" ry="4.5"/></g>
<g id="P1"><ellipse class="w" cx="562" cy="367" rx="11" ry="4.5"/></g>
<g id="P2"><ellipse class="w" cx="562" cy="382" rx="11" ry="4.5"/></g>
<g id="P3"><ellipse class="w" cx="562" cy="397" rx="11" ry="4.5"/></g>
<g id="P4"><ellipse class="w" cx="595" cy="360" rx="11" ry="4.5"/></g>
<g id="P5"><ellipse class="ye" cx="595" cy="376" rx="11" ry="4.5"/></g>
<g id="P6"><ellipse class="w" cx="595" cy="392" rx="11" ry="4.5"/></g>
<g id="P7"><ellipse class="w" cx="620" cy="367" rx="11" ry="4.5"/></g>
<g id="P8"><ellipse class="w" cx="620" cy="382" rx="11" ry="4.5"/></g>
<g id="P9"><ellipse class="w" cx="620" cy="397" rx="11" ry="4.5"/></g>
<g id="P10"><ellipse class="w" cx="643" cy="360" rx="11" ry="4.5"/></g>
<g id="P11"><ellipse class="ye" cx="643" cy="375" rx="11" ry="4.5"/></g>
<g id="P12"><ellipse class="w" cx="643" cy="390" rx="11" ry="4.5"/></g>
<g id="P13"><ellipse class="lb" cx="545" cy="408" rx="11" ry="4.5"/></g>
<g id="P14"><ellipse class="lb" cx="545" cy="423" rx="11" ry="4.5"/></g>
<g id="P15"><ellipse class="w" cx="522" cy="416" rx="11" ry="4.5"/></g>
<g id="P16"><ellipse class="w" cx="568" cy="413" rx="11" ry="4.5"/></g>
<g id="P17"><ellipse class="lb" cx="587" cy="403" rx="11" ry="4.5"/></g>
<g id="P18"><ellipse class="lb" cx="588" cy="420" rx="11" ry="4.5"/></g>
<g id="P19"><ellipse class="w" cx="624" cy="412" rx="11" ry="4.5"/></g>
<g id="P20"><ellipse class="lb" cx="643" cy="405" rx="11" ry="4.5"/></g>
<g id="P21"><ellipse class="lb" cx="645" cy="420" rx="11" ry="4.5"/></g>
</g>
</svg>
